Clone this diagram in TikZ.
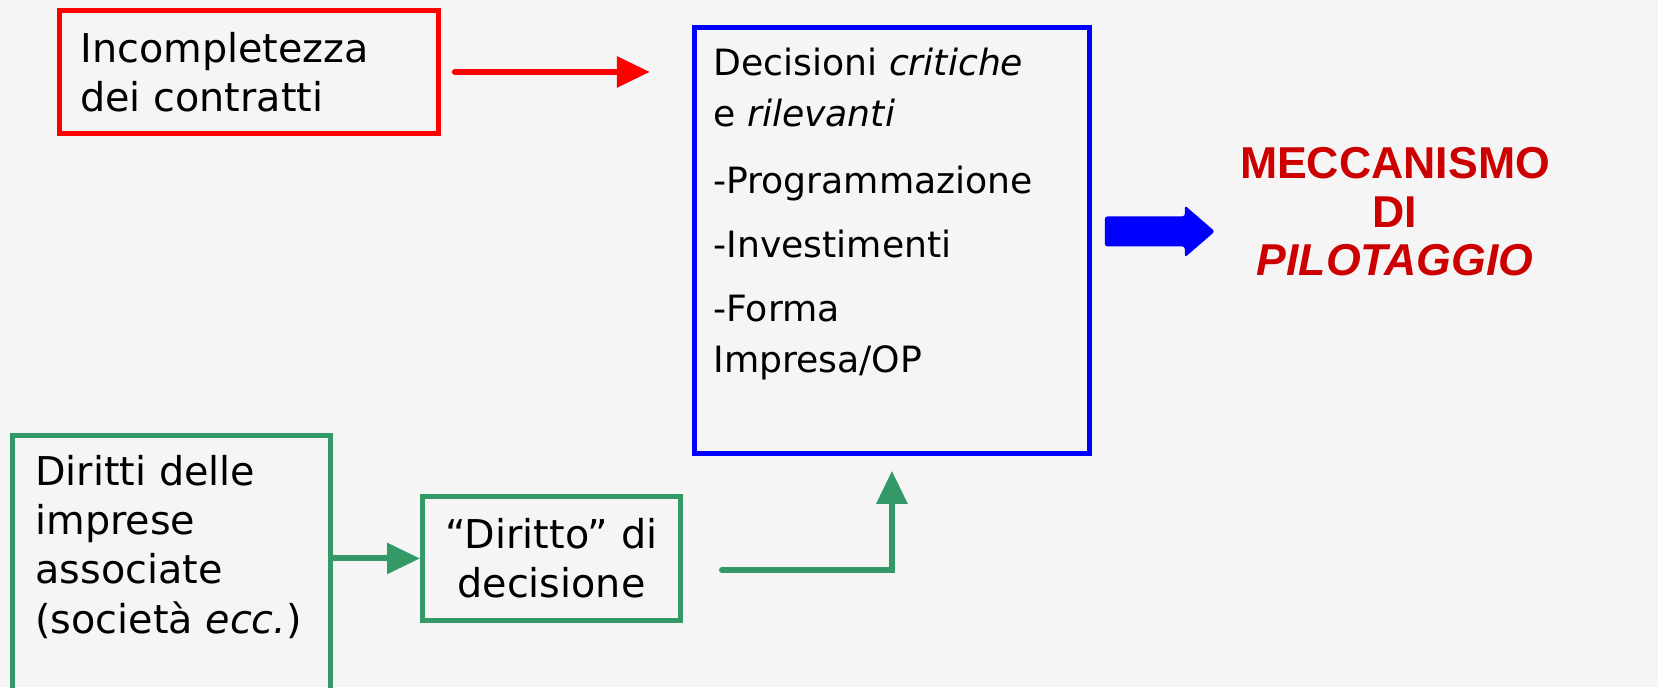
\documentclass[tikz,border=0pt]{standalone}
\usepackage{fontspec}
\setmainfont{DejaVu Sans}
\newfontfamily\titlefont{Liberation Sans}
\usetikzlibrary{arrows.meta,calc}

\definecolor{bgray}{HTML}{F5F5F5}
\definecolor{pgreen}{HTML}{339966}
\definecolor{dred}{HTML}{CC0000}

\tikzset{
	box/.style={draw, line width=2.8pt, inner sep=0pt, anchor=north west},
	txt/.style={inner sep=0pt, align=left, font=\fontsize{22.6}{28}\selectfont},
	conn/.style={line width=3.4pt, line cap=round, -{Triangle[length=0.66cm,width=0.6cm]}}
}

\begin{document}
\begin{tikzpicture}[x=0.02cm, y=-0.02cm]
	\fill[bgray] (0,0) rectangle (1658,687);
	\useasboundingbox (0,0) rectangle (1658,687);

	\node[box, red, minimum width=7.58cm, minimum height=2.46cm] (incomp) at (57,8) {};
	\node[box, blue, minimum width=7.9cm, minimum height=8.52cm] (dec) at (692,25) {};
	\node[box, pgreen, minimum width=6.36cm, minimum height=5.4cm] (diritti) at (10,433) {};
	\node[box, pgreen, minimum width=5.16cm, minimum height=2.48cm] (decis) at (420,494) {};

	\node[txt, anchor=north west] (incomptxt) at (80,32) {Incompletezza\\dei contratti};
	\node[txt, anchor=north west, font=\fontsize{20.6}{28.6}\selectfont] (dectxt) at (713,48) {Decisioni \textit{critiche}\\e \textit{rilevanti}\\[0.34cm]
		-Programmazione\\[0.28cm]-Investimenti\\[0.28cm]-Forma\\Impresa/OP};
	\node[txt, anchor=north west] (diritxt) at (35,455) {Diritti delle\\imprese\\associate\\(società \textit{ecc.})};
	\node[txt, align=center] (decistxt) at (decis) {“Diritto” di\\decisione};

	\node[font=\titlefont\bfseries\fontsize{25.4}{27.6}\selectfont, text=dred, align=center] (mecc) at (1395,212)
		{MECCANISMO\\DI\\\textit{PILOTAGGIO}};

	% connectors
	\draw[conn, red] ($(incomp.east)+(14,0)$) -- ($(incomp.east)+(209,0)$);
	\draw[conn, pgreen] (diritti.east |- decis.west) -- (decis.west);
	\coordinate (gstart) at (722,570);
	\draw[conn, pgreen] (gstart) -| ($(dec.south)+(0,15)$);

	\coordinate (arrA) at ($(dec.east)+(13,-9)$);
	\fill[blue, rounded corners=1.5pt] (arrA) ++(0,-15) -- ++(80,0) -- ++(0,-11) -- ++(30,26) -- ++(-30,26)
		-- ++(0,-11) -- ++(-80,0) -- cycle;
\end{tikzpicture}
\end{document}
